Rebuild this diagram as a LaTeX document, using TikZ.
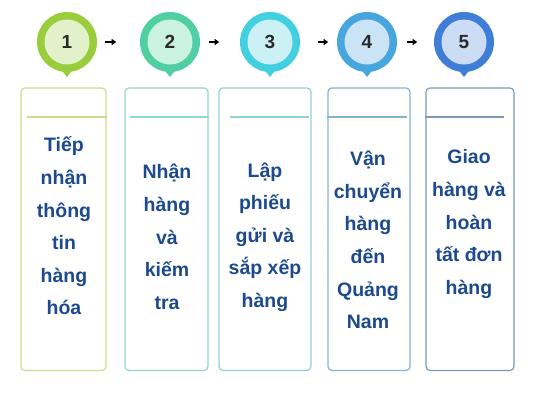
\documentclass[tikz,border=0pt]{standalone}
\usepackage{fontspec}
\setmainfont{Liberation Sans}
\usetikzlibrary{arrows.meta}
\definecolor{oA}{HTML}{9ACD3C}\definecolor{iA}{HTML}{E2F1C9}\definecolor{bA}{HTML}{CADD90}
\definecolor{oB}{HTML}{4FCFA2}\definecolor{iB}{HTML}{CBF1E3}\definecolor{bB}{HTML}{92D8C8}
\definecolor{oC}{HTML}{42D0E0}\definecolor{iC}{HTML}{CBF1F6}\definecolor{bC}{HTML}{92D0D8}
\definecolor{oD}{HTML}{47A6DD}\definecolor{iD}{HTML}{CBE4F5}\definecolor{bD}{HTML}{84B4C8}
\definecolor{oE}{HTML}{3F7ED7}\definecolor{iE}{HTML}{CCDCF5}\definecolor{bE}{HTML}{7C9AB8}
\definecolor{txt}{HTML}{1D4A8C}
\definecolor{num}{HTML}{2A2A2A}
\tikzset{
  pin/.style={circle, minimum size=60pt, inner sep=0pt},
  inner/.style={circle, minimum size=45pt, inner sep=0pt, font=\fontsize{19}{19}\selectfont\bfseries, text=num},
  box/.style={rounded corners=4pt, line width=1.2pt, minimum width=#1, minimum height=282.5pt, inner sep=0pt},
  lbl/.style={align=center, text=txt, font=\fontsize{19.5}{32.6}\selectfont\bfseries, inner sep=0pt},
  arr/.style={-{Triangle[length=4.5pt,width=6pt]}, line width=2pt, black}
}
\newcommand{\pinat}[5]{% name, x, outer, inner, number
  \fill[#3] (#2-7,68) -- (#2,77) -- (#2+7,68) -- cycle;
  \node[pin, fill=#3] (#1) at (#2,42) {};
  \node[inner, fill=#4] (#1i) at (#2,42) {#5};
}
\begin{document}
\begin{tikzpicture}[x=1pt,y=-1pt]
\useasboundingbox (0,0) rectangle (533,400);
\fill[white] (0,0) rectangle (533,400);
% pins
\pinat{p1}{67}{oA}{iA}{1}
\pinat{p2}{170}{oB}{iB}{2}
\pinat{p3}{270}{oC}{iC}{3}
\pinat{p4}{367}{oD}{iD}{4}
\pinat{p5}{464}{oE}{iE}{5}
% arrows
\draw[arr] ([xshift=8pt]p1.east) -- ([xshift=19pt]p1.east);
\draw[arr] ([xshift=9pt]p2.east) -- ([xshift=19pt]p2.east);
\draw[arr] ([xshift=18pt]p3.east) -- ([xshift=28pt]p3.east);
\draw[arr] ([xshift=10pt]p4.east) -- ([xshift=20pt]p4.east);
% boxes
\node[box=85pt, draw=bA] (b1) at (63.5,229.2) {};
\node[box=83pt, draw=bB] (b2) at (166.5,229.2) {};
\node[box=92pt, draw=bC] (b3) at (265,229.2) {};
\node[box=82pt, draw=bD] (b4) at (369,229.2) {};
\node[box=88pt, draw=bE] (b5) at (470,229.2) {};
% header lines
\draw[bA, line width=1.2pt] (27,117) -- (b1.east |- 0,117);
\draw[bB, line width=1.2pt] (130,117) -- (b2.east |- 0,117);
\draw[bC, line width=1.2pt] (230,117) -- (309,117);
\draw[bD, line width=1.2pt] (b4.west |- 0,117) -- (407,117);
\draw[bE, line width=1.2pt] (b5.west |- 0,117) -- (504,117);
% labels
\node[lbl] (t1) at (64,226) {Tiếp\\nhận\\thông\\tin\\hàng\\hóa};
\node[lbl] (t2) at (167,237) {Nhận\\hàng\\và\\kiếm\\tra};
\node[lbl] (t3) at (265,237) {Lập\\phiếu\\gửi và\\sắp xếp\\hàng};
\node[lbl] (t4) at (368,240) {Vận\\chuyển\\hàng\\đến\\Quảng\\Nam};
\node[lbl] (t5) at (469,224) {Giao\\hàng và\\hoàn\\tất đơn\\hàng};
\end{tikzpicture}
\end{document}
